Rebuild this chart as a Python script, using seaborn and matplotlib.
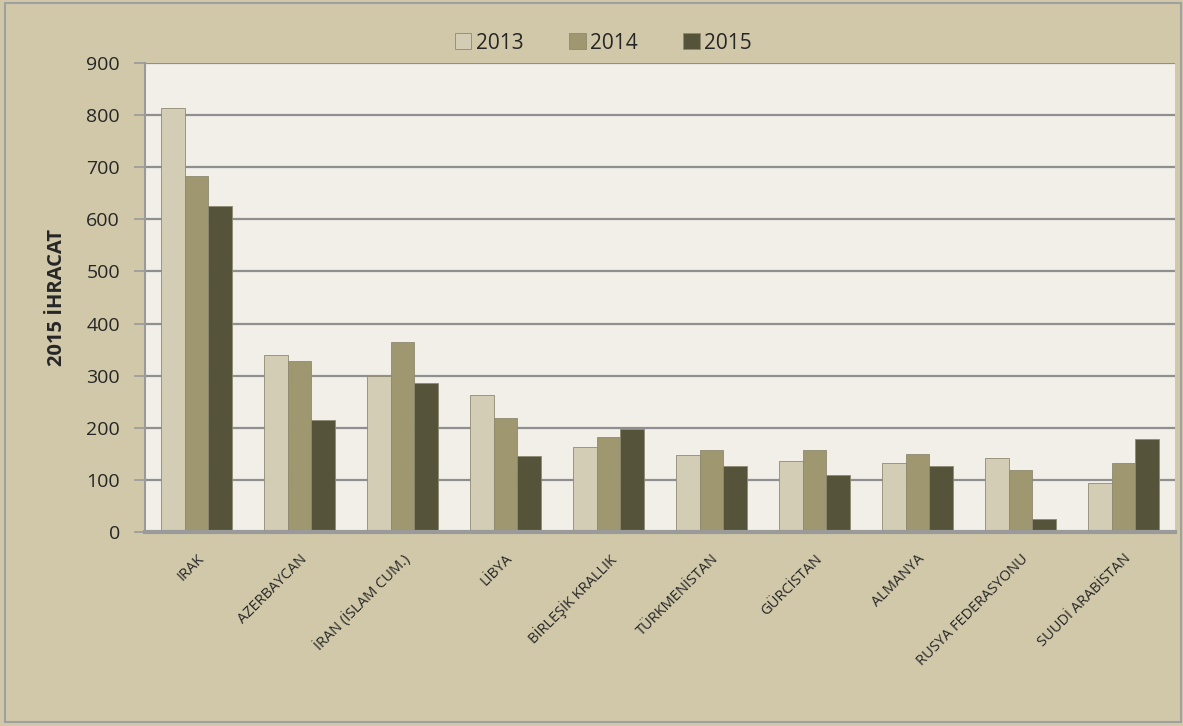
import seaborn as sns
import pandas as pd
import matplotlib.pyplot as plt
from matplotlib.patches import Rectangle

countries = ["IRAK", "AZERBAYCAN", "İRAN (İSLAM CUM.)", "LİBYA", "BİRLEŞİK KRALLIK",
             "TÜRKMENİSTAN", "GÜRCİSTAN", "ALMANYA", "RUSYA FEDERASYONU", "SUUDİ ARABİSTAN"]
v2013 = [814, 340, 300, 263, 163, 148, 137, 132, 142, 94]
v2014 = [684, 328, 365, 219, 183, 157, 157, 150, 119, 132]
v2015 = [625, 215, 286, 146, 197, 127, 109, 127, 25, 178]
years = ["2013", "2014", "2015"]
colors = ["#D7D0AF", "#A79C67", "#5B5636"]

df = pd.concat([
    pd.DataFrame({"country": countries, "value": v, "year": y})
    for v, y in zip([v2013, v2014, v2015], years)
])

sns.set_style("white")
plt.rcParams["font.family"] = ["Open Sans", "DejaVu Sans"]

fig = plt.figure(figsize=(11.83, 7.26), dpi=100, facecolor="#D0C8A9")
ax = fig.add_axes([145 / 1183, 1 - 532 / 726, 1030 / 1183, 469 / 726])
ax.set_facecolor("#F1EFE8")

sns.barplot(data=df, x="country", y="value", hue="year", palette=colors,
            width=0.68, gap=0.0, edgecolor="#8E8A72", linewidth=0.6, ax=ax)

ax.set_ylim(0, 900)
ax.set_xlim(-0.5, 9.5)
ax.set_yticks(range(0, 901, 100))
ax.yaxis.grid(True, color="#8F8F8F", linewidth=1.6)
ax.set_axisbelow(True)
for s in ["top", "right"]:
    ax.spines[s].set_visible(False)
ax.spines["left"].set_color("#9A9A9A")
ax.spines["left"].set_linewidth(1.5)
ax.spines["bottom"].set_color("#9A9A9A")
ax.spines["bottom"].set_linewidth(3)
ax.tick_params(axis="y", length=8, width=1.2, color="#9A9A9A", labelsize=14, pad=10, direction="out", left=True)
ax.tick_params(axis="x", length=0, labelsize=10.5, pad=14)
plt.setp(ax.get_xticklabels(), rotation=45, ha="right", rotation_mode="anchor")
ax.set_xlabel("")
ax.set_ylabel("2015 İHRACAT", fontsize=14.5, fontweight="bold", labelpad=14)

ax.legend(loc="upper center", bbox_to_anchor=(0.445, 1.105), ncol=3, frameon=False,
          fontsize=15, handlelength=0.8, handleheight=0.8, handletextpad=0.2, columnspacing=2.2,
          title=None)

fig.patches.append(Rectangle((0.004, 0.006), 0.994, 0.99, transform=fig.transFigure,
                             fill=False, edgecolor="#A0A0A0", linewidth=1.5))

fig.savefig("out.png", dpi=100, facecolor=fig.get_facecolor())
